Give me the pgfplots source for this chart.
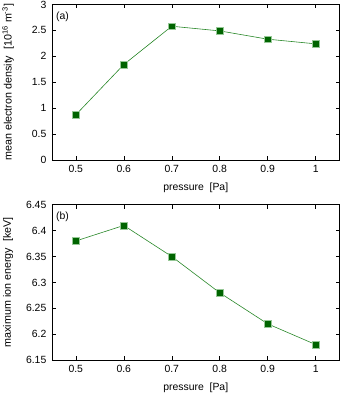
\documentclass[border=0pt]{standalone}
\usepackage{fontspec}
\setmainfont{Liberation Sans}
\usepackage{pgfplots}
\pgfplotsset{compat=1.18}
\definecolor{mkgreen}{RGB}{0,100,0}
\definecolor{lngreen}{RGB}{40,135,40}
\definecolor{mkedge}{RGB}{150,200,150}
\pgfplotsset{
  panel/.style={
    scale only axis,
    width=289bp, height=156bp,
    xmin=0.45, xmax=1.05,
    xtick={0.5,0.6,0.7,0.8,0.9,1},
    xticklabels={0.5,0.6,0.7,0.8,0.9,1},
    tick align=inside,
    major tick length=4bp,
    axis line style={line width=0.6pt},
    every tick/.style={black, line width=0.5pt},
    tick label style={font=\fontsize{10.5}{12}\selectfont},
    yticklabel style={xshift=-2bp},
    xticklabel style={yshift=-2bp},
    /pgf/number format/assume math mode=true,
    xlabel={pressure\ \ [Pa]},
    xlabel style={at={(axis description cs:0.5,-0.18)}, anchor=center,
      font=\fontsize{10.5}{12}\selectfont},
    ylabel style={at={(axis description cs:-0.152,0.5)}, anchor=center,
      font=\fontsize{10.8}{12}\selectfont},
    anchor=south west,
  },
  dat/.style={color=lngreen, line width=0.6pt, mark=square*,
    mark size=3.3bp, mark options={fill=mkgreen, draw=mkedge, line width=0.4pt}},
}
\tikzset{tag/.style={anchor=west, inner sep=0pt, font=\fontsize{10.5}{12}\selectfont}}
\begin{document}
\begin{tikzpicture}
\begin{axis}[panel, at={(0,201bp)},
  ymin=0, ymax=3, ytick={0,0.5,1,1.5,2,2.5,3},
  yticklabels={0,0.5,1,1.5,2,2.5,3},
  ylabel={mean electron density\ \ [10\textsuperscript{16} m\textsuperscript{-3}]}]
\addplot[dat] coordinates {(0.5,0.87) (0.6,1.84) (0.7,2.58) (0.8,2.49) (0.9,2.33) (1,2.24)};
\node[tag] at (axis description cs:0.014,0.923) {(a)};
\end{axis}
\begin{axis}[panel, at={(0,0)},
  ymin=6.15, ymax=6.45, ytick={6.15,6.2,6.25,6.3,6.35,6.4,6.45},
  yticklabels={6.15,6.2,6.25,6.3,6.35,6.4,6.45},
  ylabel={maximum ion energy\ \ [keV]}]
\addplot[dat] coordinates {(0.5,6.38) (0.6,6.41) (0.7,6.35) (0.8,6.28) (0.9,6.22) (1,6.18)};
\node[tag] at (axis description cs:0.014,0.923) {(b)};
\end{axis}
\pgfresetboundingbox
\useasboundingbox (-52bp,-34bp) rectangle (290bp,361.5bp);
\end{tikzpicture}
\end{document}
